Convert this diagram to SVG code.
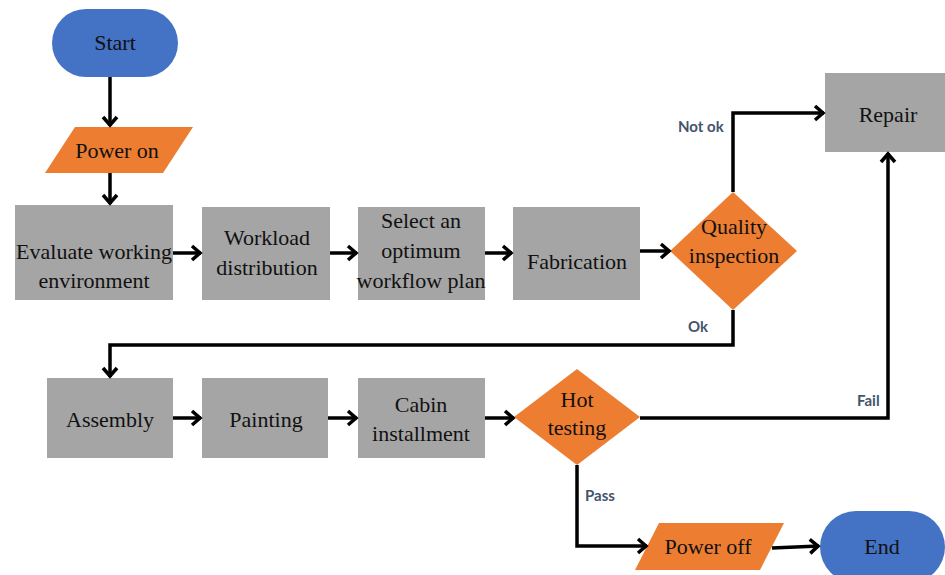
<svg xmlns="http://www.w3.org/2000/svg" width="945" height="575" viewBox="0 0 945 575">
<defs>
<style>
.box{fill:#A5A5A5}
.dec{fill:#ED7D31}
.term{fill:#4472C4}
.t{font-size:22px;fill:#111;text-anchor:middle}
.lbl{font-family:Lato,"Liberation Sans",sans-serif;font-size:15px;font-weight:bold;fill:#44546A}
.c{fill:none;stroke:#000;stroke-width:3.5;marker-end:url(#arr)}
</style>
<marker id="arr" markerUnits="userSpaceOnUse" markerWidth="16" markerHeight="18" viewBox="0 0 16 18" refX="13" refY="9" orient="auto">
<path d="M4,2 L12,9 L4,16" fill="none" stroke="#000" stroke-width="3.5"/>
</marker>
</defs>
<rect width="945" height="575" fill="#fff"/>

<g font-family="'Liberation Serif', 'DejaVu Serif', serif">
<g id="start"><rect class="term" x="52" y="9" width="126" height="68" rx="34"/><text class="t" x="115" y="50">Start</text></g>
<g id="power-on"><polygon class="dec" points="75,127 193,127 163,173 45,173"/><text class="t" x="117" y="158">Power on</text></g>
<g id="evaluate"><rect class="box" x="15" y="205" width="158" height="95"/><text class="t" x="94" y="259">Evaluate working</text><text class="t" x="94" y="288">environment</text></g>
<g id="workload"><rect class="box" x="202" y="207" width="128" height="93"/><text class="t" x="267" y="245">Workload</text><text class="t" x="267" y="275">distribution</text></g>
<g id="select"><rect class="box" x="358" y="207" width="127" height="93"/><text class="t" x="421" y="228">Select an</text><text class="t" x="421" y="258">optimum</text><text class="t" x="421" y="288">workflow plan</text></g>
<g id="fabrication"><rect class="box" x="513" y="207" width="127" height="93"/><text class="t" x="577" y="269">Fabrication</text></g>
<g id="quality"><polygon class="dec" points="733,192 797,251 733,310 670,251"/><text class="t" x="734" y="234">Quality</text><text class="t" x="734" y="263">inspection</text></g>
<g id="repair"><rect class="box" x="825" y="73" width="120" height="79"/><text class="t" x="888" y="122">Repair</text></g>
<g id="assembly"><rect class="box" x="47" y="378" width="126" height="80"/><text class="t" x="110" y="427">Assembly</text></g>
<g id="painting"><rect class="box" x="202" y="378" width="126" height="80"/><text class="t" x="266" y="427">Painting</text></g>
<g id="cabin"><rect class="box" x="358" y="378" width="127" height="80"/><text class="t" x="421" y="412">Cabin</text><text class="t" x="421" y="441">installment</text></g>
<g id="hot-testing"><polygon class="dec" points="577,369 640,417 577,465 514,417"/><text class="t" x="577" y="407">Hot</text><text class="t" x="577" y="435">testing</text></g>
<g id="power-off"><polygon class="dec" points="659,523 784,523 760,570 635,570"/><text class="t" x="708" y="554">Power off</text></g>
<g id="end"><rect class="term" x="820" y="511" width="125" height="72" rx="36"/><text class="t" x="882" y="554">End</text></g>
</g>

<g id="connectors">
<line class="c" x1="110" y1="77" x2="110" y2="126"/>
<line class="c" x1="110" y1="173" x2="110" y2="204"/>
<line class="c" x1="173" y1="253" x2="201" y2="253"/>
<line class="c" x1="330" y1="253" x2="357" y2="253"/>
<line class="c" x1="485" y1="253" x2="512" y2="253"/>
<line class="c" x1="640" y1="251" x2="670" y2="251"/>
<polyline class="c" points="733,192 733,113 824,113"/>
<polyline class="c" points="733,310 733,345 110,345 110,377"/>
<line class="c" x1="173" y1="418" x2="201" y2="418"/>
<line class="c" x1="328" y1="418" x2="357" y2="418"/>
<line class="c" x1="485" y1="418" x2="514" y2="418"/>
<polyline class="c" points="640,418 888,418 888,153"/>
<polyline class="c" points="577,465 577,546 647,546"/>
<line class="c" x1="772" y1="548" x2="819" y2="546"/>
<text class="lbl" x="678" y="132">Not ok</text>
<text class="lbl" x="688" y="332">Ok</text>
<text class="lbl" x="857" y="406">Fail</text>
<text class="lbl" x="585" y="501">Pass</text>
</g>
</svg>
